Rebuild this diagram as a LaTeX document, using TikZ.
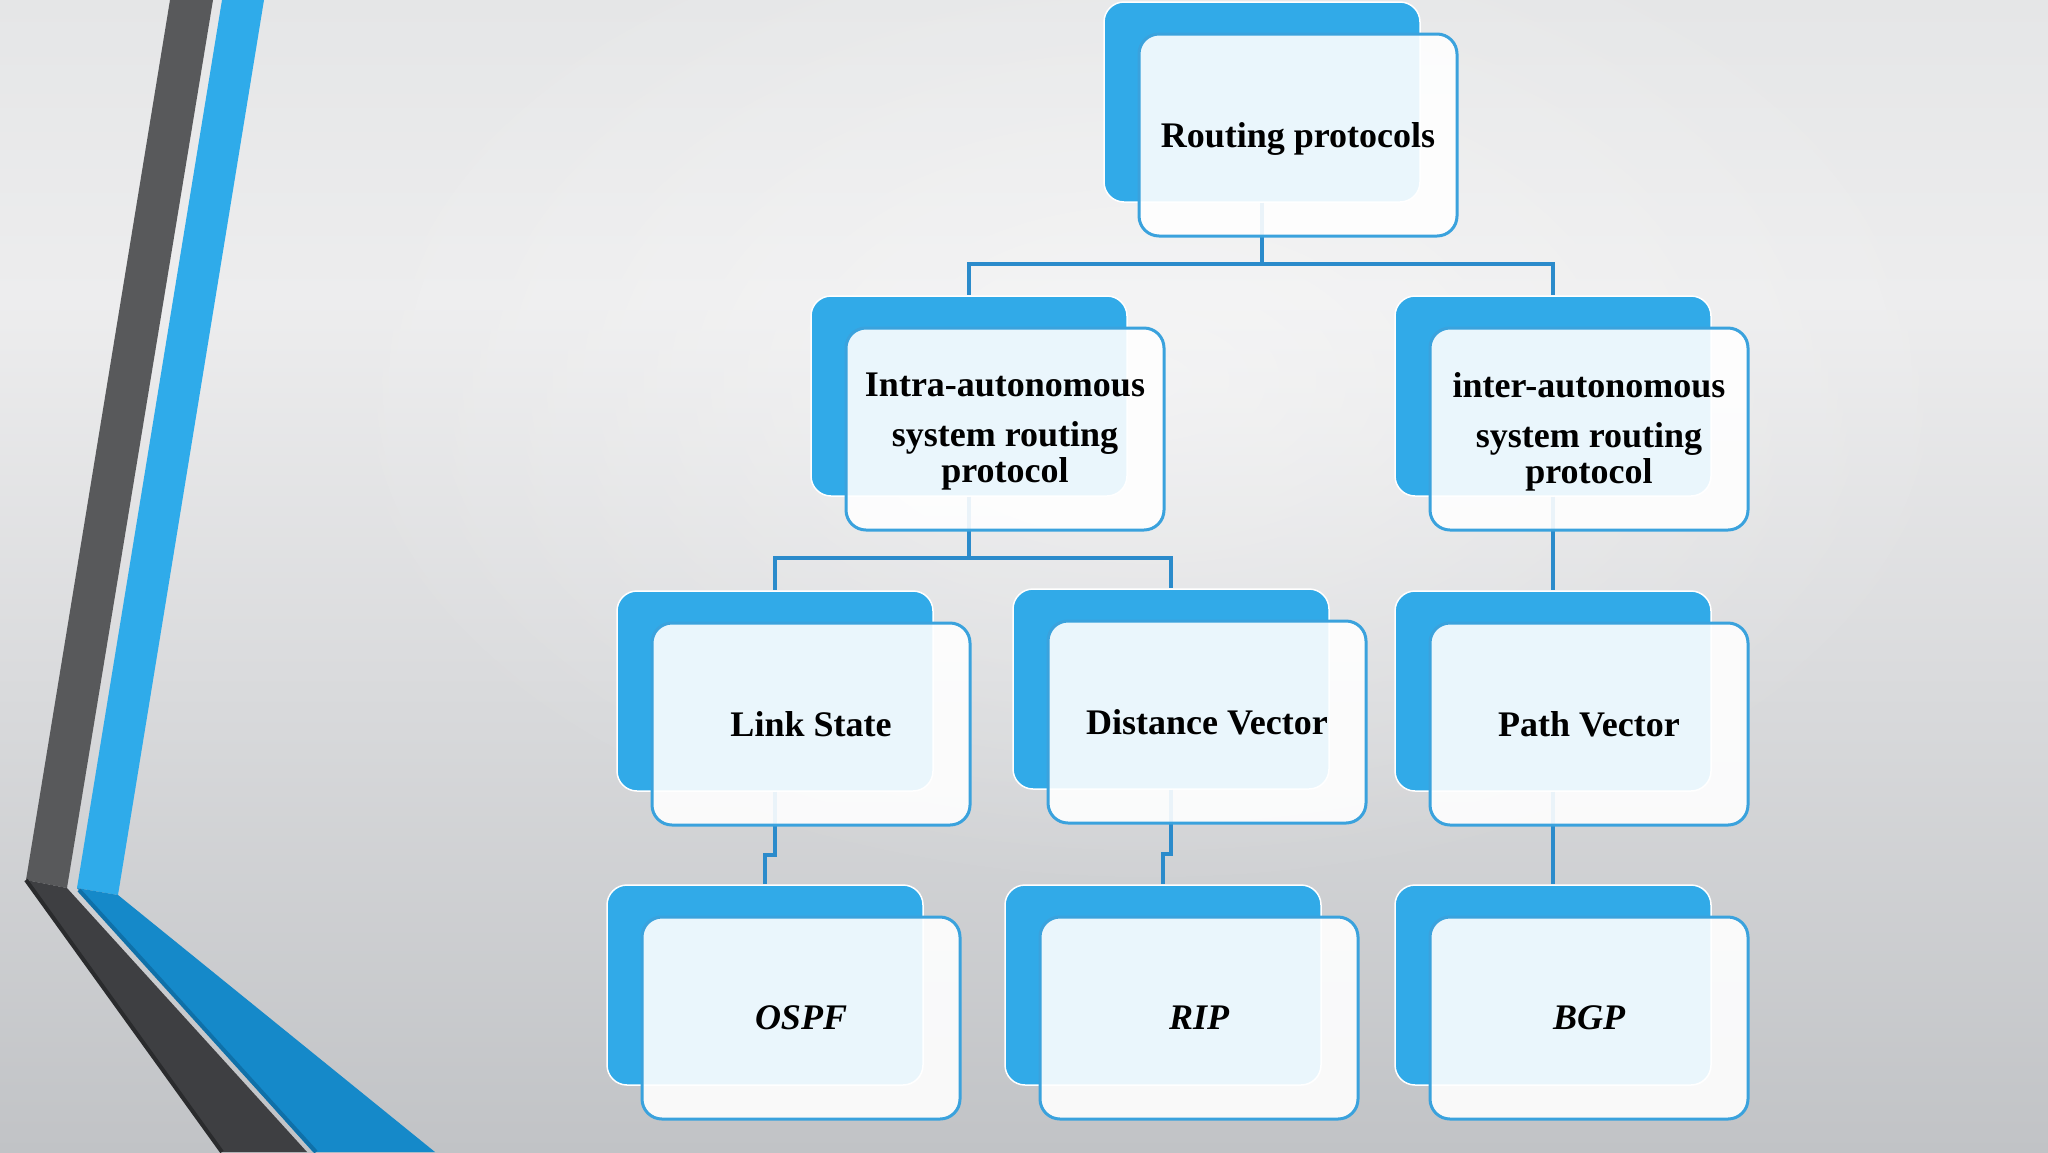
\documentclass[tikz,border=0pt]{standalone}
\usepackage{fontspec}
\setmainfont{Liberation Serif}
\usetikzlibrary{fadings}
\definecolor{bgbot}{HTML}{C1C3C6}
\definecolor{bgmA}{HTML}{D9DADC}
\definecolor{bgmB}{HTML}{EDEDEE}
\definecolor{bgtop}{HTML}{E5E6E7}
\definecolor{greyup}{HTML}{58595B}
\definecolor{greylow}{HTML}{3E3F42}
\definecolor{greyedge}{HTML}{2A2B2D}
\definecolor{blueup}{HTML}{2FABEA}
\definecolor{bluelow}{HTML}{1589C9}
\definecolor{blueedge}{HTML}{0F70A8}
\definecolor{backblue}{HTML}{31AAE8}
\definecolor{frontline}{HTML}{3AA2DD}
\definecolor{connblue}{HTML}{2B8BCB}
\pgfdeclareverticalshading{bgshade}{100bp}{color(0bp)=(bgbot); color(25bp)=(bgbot); color(45bp)=(bgmA); color(62bp)=(bgmB); color(75bp)=(bgtop); color(100bp)=(bgtop)}
\tikzfading[name=softglow, inner color=transparent!0, outer color=transparent!100]
\tikzset{
  backbox/.style={fill=backblue, draw=white, line width=0.75pt, rounded corners=10pt,
    minimum width=158pt, minimum height=100pt, inner sep=0pt},
  frontbox/.style={fill=white, fill opacity=0.9, text opacity=1, draw=frontline,
    line width=1.5pt, rounded corners=10pt, minimum width=159pt, minimum height=101pt,
    inner sep=0pt, align=center, font=\fontsize{18}{18}\selectfont\bfseries},
  itbox/.style={frontbox, font=\fontsize{18}{18}\selectfont\bfseries\itshape},
  boxtext/.style={inner sep=0pt, align=center, anchor=north,
    font=\fontsize{18}{18}\selectfont\bfseries},
  conn/.style={draw=connblue, line width=1.55pt}
}
\begin{document}
\begin{tikzpicture}[x=0.5pt,y=-0.5pt]
\useasboundingbox (0,0) rectangle (2048,1152);
% background
\shade[shading=bgshade] (0,0) rectangle (2048,1152);
\fill[white, fill opacity=0.45, path fading=softglow] (1150,380) ellipse (850 and 520);
% left stripes
\fill[greyup] (170,0) -- (213,0) -- (67,888) -- (26,880) -- cycle;
\fill[blueup] (222,0) -- (264,0) -- (118,895) -- (77,888) -- cycle;
\fill[greylow] (26,880) -- (67,888) -- (307,1152) -- (222,1152) -- cycle;
\draw[greyedge, line width=2pt] (26,880) -- (222,1152);
\fill[bluelow] (77,888) -- (118,895) -- (435,1152) -- (313,1152) -- cycle;
\draw[blueedge, line width=2pt] (79,890) -- (316,1152);
% back boxes
\node[backbox] (rootb)  at (1262,102) {};
\node[backbox] (intrab) at (969,396) {};
\node[backbox] (interb) at (1553,396) {};
\node[backbox] (linkb)  at (775,691) {};
\node[backbox] (dvb)    at (1171,689) {};
\node[backbox] (pathb)  at (1553,691) {};
\node[backbox] (ospfb)  at (765,985) {};
\node[backbox] (ripb)   at (1163,985) {};
\node[backbox] (bgpb)   at (1553,985) {};
% connectors
\coordinate (j0) at (1262,264);
\coordinate (j1) at (969,558);
\coordinate (j2) at (775,855);
\coordinate (j3) at (1171,854);
\draw[conn] (rootb.south) -- (j0);
\draw[conn] (j0) -| (intrab.north);
\draw[conn] (j0) -| (interb.north);
\draw[conn] (intrab.south) -- (j1);
\draw[conn] (j1) -| (linkb.north);
\draw[conn] (j1) -| (dvb.north);
\draw[conn] (interb.south) -- (pathb.north);
\draw[conn] (linkb.south) -- (j2) -| (ospfb.north);
\draw[conn] (dvb.south) -- (j3) -| (ripb.north);
\draw[conn] (pathb.south) -- (bgpb.north);
% front boxes
\node[frontbox] (root)  at (1298,135) {\raisebox{-2pt}[\height][\depth]{Routing protocols}};
\node[frontbox] (intra) at (1005,429) {};
\node[boxtext] (intratext) at ([yshift=-23pt]intra.north) {Intra-autonomous\\[7pt] system routing\\ protocol};
\node[frontbox] (inter) at (1589,429) {};
\node[boxtext] (intertext) at ([yshift=-23pt]inter.north) {inter-autonomous\\[7pt] system routing\\ protocol};
\node[frontbox] (link)  at (811,724) {Link State};
\node[frontbox] (dv)    at (1207,722) {Distance Vector};
\node[frontbox] (path)  at (1589,724) {Path Vector};
\node[itbox] (ospf) at (801,1018) {OSPF};
\node[itbox] (rip)  at (1199,1018) {RIP};
\node[itbox] (bgp)  at (1589,1018) {BGP};
\end{tikzpicture}
\end{document}
